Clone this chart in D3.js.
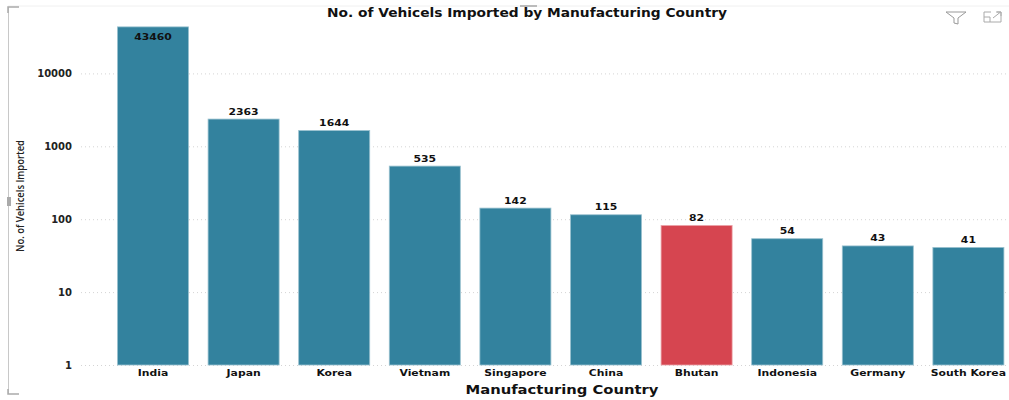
<!DOCTYPE html>
<html>
<head>
<meta charset="utf-8">
<script src="https://cdn.jsdelivr.net/npm/d3@7"></script>
<style>
  html, body { margin: 0; padding: 0; background: #fff; }
  svg { display: block; }
  text { font-family: "DejaVu Sans", sans-serif; fill: #111; }
</style>
</head>
<body>
<div id="chart"></div>
<script>
var countries = ["India", "Japan", "Korea", "Vietnam", "Singapore", "China", "Bhutan", "Indonesia", "Germany", "South Korea"];
var imported = [43460, 2363, 1644, 535, 142, 115, 82, 54, 43, 41];
var yTicks = [1, 10, 100, 1000, 10000];
var highlighted = "Bhutan";

var width = 1009, height = 400;

var svg = d3.select("#chart").append("svg")
    .attr("width", width)
    .attr("height", height);

var x = d3.scaleBand()
    .domain(countries)
    .range([107.7, 1013.7])
    .paddingInner(0.216)
    .paddingOuter(0.108);

var y = d3.scaleLog()
    .domain([1, 100000])
    .range([365, 0.5]);

// the picture has its text stretched sideways, so widen each label a bit
function stretch(selection, factor){
    selection.each(function(){
        d3.select(this)
            .attr("textLength", this.getComputedTextLength() * factor)
            .attr("lengthAdjust", "spacingAndGlyphs");
    });
}

// visual frame, the bits of the report page that stay around the chart
svg.append("line").attr("x1", 8).attr("x2", 1009).attr("y1", 6).attr("y2", 6)
    .attr("stroke", "#f0f0f0");
svg.append("line").attr("x1", 8.5).attr("x2", 8.5).attr("y1", 7).attr("y2", 394)
    .attr("stroke", "#c8c8c8");
svg.append("path").attr("d", "M8 13V7H19").attr("fill", "none").attr("stroke", "#aaa").attr("stroke-width", 1.5);
svg.append("path").attr("d", "M8 389V394H19").attr("fill", "none").attr("stroke", "#aaa").attr("stroke-width", 1.5);
svg.append("rect").attr("x", 7).attr("y", 197).attr("width", 4).attr("height", 9).attr("fill", "#aaa");
svg.append("rect").attr("x", 520).attr("y", 5).attr("width", 17).attr("height", 2).attr("fill", "#bbb");

// gridlines
svg.append("g")
    .selectAll("line")
    .data(yTicks)
    .enter()
    .append("line")
      .attr("x1", 81)
      .attr("x2", 1009)
      .attr("y1", function(d){ return y(d) + 0.5; })
      .attr("y2", function(d){ return y(d) + 0.5; })
      .attr("stroke", "#d4d4d4")
      .attr("stroke-dasharray", "1,3");

// y axis, labels only
var yAxis = svg.append("g")
    .attr("transform", "translate(80,0)")
    .call(d3.axisLeft(y).tickValues(yTicks).tickFormat(d3.format("d")).tickSize(0).tickPadding(8));
yAxis.select(".domain").remove();
yAxis.selectAll("text")
    .style("font-size", "10px")
    .style("font-weight", "600")
    .style("font-family", "'DejaVu Sans', sans-serif")
    .style("fill", "#222");

// x axis, labels only
var xAxis = svg.append("g")
    .attr("transform", "translate(0,365)")
    .call(d3.axisBottom(x).tickSize(0).tickPadding(4));
xAxis.select(".domain").remove();
xAxis.selectAll("text")
    .style("font-size", "9.5px")
    .style("font-weight", "bold")
    .style("font-family", "'DejaVu Sans', sans-serif")
    .style("fill", "#111")
    .call(stretch, 1.14);

// bars
svg.append("g")
    .selectAll("rect")
    .data(countries)
    .enter()
    .append("rect")
      .attr("x", function(d){ return x(d); })
      .attr("y", function(d, i){ return y(imported[i]); })
      .attr("width", x.bandwidth())
      .attr("height", function(d, i){ return y(1) - y(imported[i]); })
      .attr("fill", function(d){ return d == highlighted ? "#d64550" : "#33829e"; })
      .attr("stroke", function(d){ return d == highlighted ? "#eba2a8" : "#99c1cf"; })
      .attr("stroke-width", 0.8);

// value labels, the tallest bar has its label inside
svg.append("g")
    .selectAll("text")
    .data(countries)
    .enter()
    .append("text")
      .attr("x", function(d){ return x(d) + x.bandwidth() / 2; })
      .attr("y", function(d, i){ return i == 0 ? y(imported[i]) + 13 : y(imported[i]) - 4.5; })
      .attr("text-anchor", "middle")
      .attr("font-size", "9.5px")
      .attr("font-weight", "bold")
      .text(function(d, i){ return imported[i]; })
      .call(stretch, 1.14);

// titles
svg.append("text")
    .attr("x", 527)
    .attr("y", 17)
    .attr("text-anchor", "middle")
    .attr("font-size", "13px")
    .attr("font-weight", "bold")
    .attr("textLength", 400)
    .attr("lengthAdjust", "spacingAndGlyphs")
    .text("No. of Vehicels Imported by Manufacturing Country");

svg.append("text")
    .attr("x", 562)
    .attr("y", 394)
    .attr("text-anchor", "middle")
    .attr("font-size", "13px")
    .attr("font-weight", "bold")
    .attr("textLength", 193)
    .attr("lengthAdjust", "spacingAndGlyphs")
    .text("Manufacturing Country");

svg.append("text")
    .attr("transform", "translate(24,196) rotate(-90)")
    .attr("text-anchor", "middle")
    .attr("font-size", "11.5px")
    .attr("font-weight", "600")
    .attr("textLength", 112)
    .attr("lengthAdjust", "spacingAndGlyphs")
    .style("font-family", "'Open Sans', sans-serif")
    .style("fill", "#222")
    .text("No. of Vehicels Imported");

// filter and focus icons
svg.append("path")
    .attr("d", "M946 12H966L958 18V24L954 23V18Z")
    .attr("fill", "none")
    .attr("stroke", "#999");
svg.append("path")
    .attr("d", "M991 12H984V22H1001V12H997M993 18L1000 12.5M996 12H1001V16M984 17H990V22")
    .attr("fill", "none")
    .attr("stroke", "#aaa");
</script>
</body>
</html>
